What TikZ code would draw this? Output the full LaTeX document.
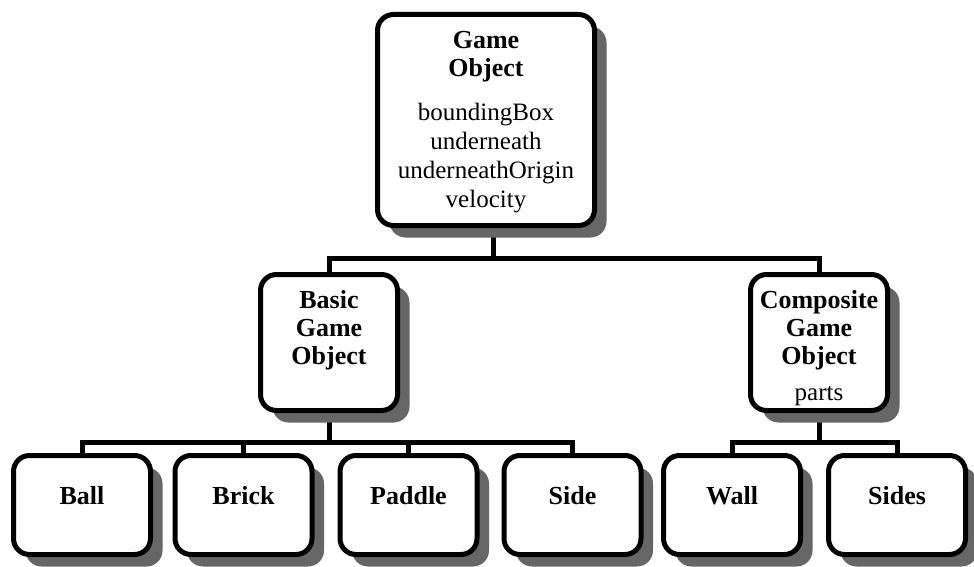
\documentclass[tikz,border=0pt]{standalone}
\usepackage{fontspec}
\setmainfont{Liberation Serif}
\usetikzlibrary{shadows,backgrounds}
\newlength\px \setlength\px{0.75pt}
\newcommand\objtext[4]{\parbox[c][#2\px][t]{#1\px}{\centering\rule{0pt}{#3\px}#4}}
\newcommand\objhead[1]{{\fontsize{19.5pt}{21pt}\selectfont\bfseries #1\par}}
\newcommand\objattr[1]{{\fontsize{18.75pt}{21.75pt}\selectfont #1\par}}
\tikzset{
  obj/.style={draw, line width=3.75pt, rounded corners=12pt, fill=white,
    inner sep=0pt, outer sep=0pt,
    drop shadow={shadow xshift=9pt, shadow yshift=-9pt, fill=black!60, opacity=1}},
  conn/.style={line width=3.75pt, line join=miter, line cap=butt}
}
\begin{document}
\begin{tikzpicture}[x=0.75pt, y=-0.75pt]
\useasboundingbox (0,0) rectangle (974,567);
% nodes
\node[obj] (top) at (486,120) {\objtext{217}{211}{33.5}{\objhead{Game\\Object}\vspace{15\px}\objattr{boundingBox\\underneath\\underneathOrigin\\velocity}}};
\node[obj] (basic) at (329,342.5) {\objtext{137}{136}{33.5}{\objhead{Basic\\Game\\Object}}};
\node[obj] (comp) at (819,342.5) {\objtext{137}{136}{33.5}{\objhead{Composite\\Game\\Object}\vspace{7\px}\objattr{parts}}};
\node[obj] (ball) at (82,505) {\objtext{137}{99}{48.5}{\objhead{Ball}}};
\node[obj] (brick) at (243.5,505) {\objtext{137}{99}{48.5}{\objhead{Brick}}};
\node[obj] (paddle) at (408.5,505) {\objtext{137}{99}{48.5}{\objhead{Paddle}}};
\node[obj] (side) at (572.5,505) {\objtext{137}{99}{48.5}{\objhead{Side}}};
\node[obj] (wall) at (732,505) {\objtext{137}{99}{48.5}{\objhead{Wall}}};
\node[obj] (sides) at (897,505) {\objtext{137}{99}{48.5}{\objhead{Sides}}};
\coordinate (bus1) at (0,258);
\coordinate (bus2) at (0,442);
\begin{scope}[on background layer]
  \coordinate (topout) at ([xshift=5.25pt]top.south);
  \draw[conn] (topout) -- (topout |- bus1) -| (basic.north);
  \draw[conn] (topout) -- (topout |- bus1) -| (comp.north);
  \foreach \c in {ball,brick,paddle,side}
    \draw[conn] (basic.south) -- (basic.south |- bus2) -| (\c.north);
  \foreach \c in {wall,sides}
    \draw[conn] (comp.south) -- (comp.south |- bus2) -| (\c.north);
\end{scope}
\end{tikzpicture}
\end{document}
